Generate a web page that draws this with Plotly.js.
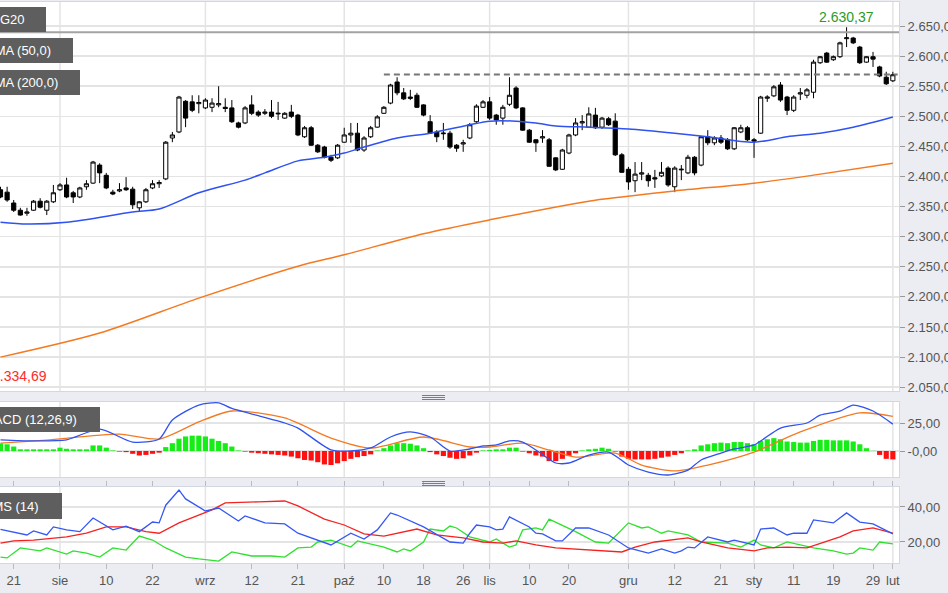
<!DOCTYPE html>
<html><head><meta charset="utf-8">
<script src="https://cdn.plot.ly/plotly-3.0.1.min.js"></script>
<style>html,body{margin:0;padding:0;background:#ebedf2;overflow:hidden}#chart{width:948px;height:593px}</style>
</head><body><div id="chart"></div>
<script>
// ---------- DATA ----------
const dates = [
'2017-07-19','2017-07-20','2017-07-21','2017-07-24','2017-07-25','2017-07-26','2017-07-27','2017-07-28','2017-07-31',
'2017-08-01','2017-08-02','2017-08-03','2017-08-04','2017-08-07','2017-08-08','2017-08-09','2017-08-10','2017-08-11','2017-08-14','2017-08-16','2017-08-17','2017-08-18','2017-08-21','2017-08-22','2017-08-23','2017-08-24','2017-08-25','2017-08-28','2017-08-29','2017-08-30','2017-08-31',
'2017-09-01','2017-09-04','2017-09-05','2017-09-06','2017-09-07','2017-09-08','2017-09-11','2017-09-12','2017-09-13','2017-09-14','2017-09-15','2017-09-18','2017-09-19','2017-09-20','2017-09-21','2017-09-22','2017-09-25','2017-09-26','2017-09-27','2017-09-28','2017-09-29',
'2017-10-02','2017-10-03','2017-10-04','2017-10-05','2017-10-06','2017-10-09','2017-10-10','2017-10-11','2017-10-12','2017-10-13','2017-10-16','2017-10-17','2017-10-18','2017-10-19','2017-10-20','2017-10-23','2017-10-24','2017-10-25','2017-10-26','2017-10-27','2017-10-30','2017-10-31',
'2017-11-02','2017-11-03','2017-11-06','2017-11-07','2017-11-08','2017-11-09','2017-11-10','2017-11-13','2017-11-14','2017-11-15','2017-11-16','2017-11-17','2017-11-20','2017-11-21','2017-11-22','2017-11-23','2017-11-24','2017-11-27','2017-11-28','2017-11-29','2017-11-30',
'2017-12-01','2017-12-04','2017-12-05','2017-12-06','2017-12-07','2017-12-08','2017-12-11','2017-12-12','2017-12-13','2017-12-14','2017-12-15','2017-12-18','2017-12-19','2017-12-20','2017-12-21','2017-12-22','2017-12-27','2017-12-28','2017-12-29',
'2018-01-02','2018-01-03','2018-01-04','2018-01-08','2018-01-09','2018-01-10','2018-01-11','2018-01-12','2018-01-15','2018-01-16','2018-01-17','2018-01-18','2018-01-19','2018-01-22','2018-01-23','2018-01-24','2018-01-25','2018-01-26','2018-01-29','2018-01-30','2018-01-31',
'2018-02-01'];

const open = [
2378,2374,2356,2344,2339,2344,2359,2344,2358,
2378,2386,2373,2366,2383,2389,2419,2402,2374,2376,2381,2379,2348,2358,2381,2388,2396,2464,2474,2525,2524,2521,
2514,2515,2519,2515,2514,2489,2489,2519,2507,2505,2507,2504,2497,2507,2502,2466,2481,2452,2449,2432,2431,
2457,2469,2472,2444,2466,2482,2505,2522,2557,2539,2532,2535,2519,2491,2474,2471,2472,2452,2454,2464,2491,2515,
2524,2502,2497,2520,2547,2514,2477,2461,2464,2461,2431,2412,2439,2469,2489,2482,2502,2482,2496,2492,2436,
2412,2393,2404,2402,2398,2401,2414,2383,2411,2406,2432,2419,2466,2456,2464,2461,2446,2474,2481,
2461,2472,2530,2534,2552,2532,2510,2537,2535,2540,2589,2605,2594,2599,2629,2630,2615,2590,2599,2582,2565,
2559];
const high = [
2383,2383,2361,2348,2348,2361,2364,2361,2386,
2389,2398,2376,2383,2394,2426,2422,2406,2378,2389,2399,2383,2359,2381,2394,2394,2459,2474,2534,2527,2535,2535,
2530,2530,2550,2530,2527,2491,2517,2535,2510,2512,2527,2524,2507,2519,2504,2484,2484,2454,2451,2436,2454,
2481,2489,2489,2467,2484,2502,2517,2554,2565,2547,2544,2539,2520,2502,2477,2489,2476,2454,2461,2489,2520,2527,
2532,2504,2519,2565,2550,2515,2479,2462,2477,2464,2432,2446,2471,2497,2502,2515,2514,2499,2499,2505,2439,
2416,2424,2424,2406,2411,2424,2417,2417,2419,2436,2434,2467,2477,2467,2469,2464,2482,2486,2484,
2464,2534,2535,2552,2557,2534,2535,2547,2547,2594,2600,2607,2601,2624,2648,2632,2617,2600,2607,2584,2574,
2574];
const low = [
2364,2358,2341,2335,2334.69,2343,2347,2336,2356,
2376,2364,2356,2364,2378,2388,2389,2379,2369,2374,2376,2346,2341,2356,2379,2381,2394,2457,2472,2482,2507,2505,
2512,2507,2515,2507,2489,2480,2487,2502,2499,2502,2497,2494,2496,2497,2467,2464,2451,2439,2430,2424,2429,
2456,2456,2442,2441,2464,2481,2504,2520,2535,2527,2527,2514,2500,2471,2457,2461,2446,2441,2441,2462,2489,2514,
2494,2486,2486,2517,2512,2476,2456,2441,2456,2416,2409,2411,2437,2467,2477,2481,2479,2479,2484,2434,2406,
2378,2374,2394,2383,2381,2399,2383,2374,2394,2404,2402,2417,2452,2452,2454,2444,2444,2472,2459,
2431,2471,2524,2532,2524,2502,2507,2527,2530,2530,2587,2589,2592,2597,2615,2620,2587,2589,2582,2565,2552,
2557];
const close = [
2366,2361,2344,2336,2341,2359,2349,2359,2373,
2386,2366,2366,2381,2388,2424,2406,2381,2371,2378,2378,2353,2358,2378,2388,2390,2457,2469,2532,2497,2510,2523,
2527,2522,2521,2513,2491,2482,2514,2505,2502,2507,2500,2505,2505,2500,2469,2481,2452,2441,2432,2427,2452,
2469,2472,2444,2464,2481,2499,2515,2552,2539,2529,2530,2515,2502,2472,2466,2472,2449,2447,2456,2486,2517,2524,
2497,2494,2515,2535,2514,2477,2457,2456,2466,2417,2411,2444,2469,2489,2491,2504,2481,2497,2486,2436,2407,
2391,2404,2406,2393,2396,2407,2386,2414,2412,2432,2406,2466,2456,2464,2457,2446,2481,2481,2461,
2459,2532,2532,2549,2527,2510,2532,2539,2544,2590,2599,2590,2599,2622,2630.37,2622,2589,2599,2595,2567,2554,
2569];

const sma50Dates = ['2017-07-19','2017-07-25','2017-08-02','2017-08-17','2017-08-23','2017-08-31','2017-09-11','2017-09-14','2017-09-21','2017-09-27','2017-10-02','2017-10-05','2017-10-12','2017-10-19','2017-10-27','2017-11-02','2017-11-08','2017-11-13','2017-11-16','2017-11-23','2017-12-01','2017-12-12','2017-12-19','2018-01-02','2018-01-10','2018-01-17','2018-01-24','2018-02-01'];
const sma50 = [2324,2321,2324,2341,2346,2373,2394,2406,2426,2432,2439,2449,2464,2472,2486,2492,2492,2489,2484,2482,2479,2472,2466,2457,2466,2472,2482,2499];

const sma200Dates = ['2017-07-19','2017-08-09','2017-08-31','2017-09-21','2017-10-02','2017-10-18','2017-11-02','2017-11-23','2017-11-30','2017-12-12','2018-01-02','2018-01-12','2018-02-01'];
const sma200 = [2100,2140,2198,2251,2270,2305,2328,2359,2366,2376,2389,2399,2422];

const macdDates = ['2017-07-19','2017-07-26','2017-08-02','2017-08-09','2017-08-17','2017-08-23','2017-08-25','2017-08-31','2017-09-05','2017-09-07','2017-09-19','2017-09-21','2017-09-28','2017-10-03','2017-10-06','2017-10-11','2017-10-16','2017-10-19','2017-10-24','2017-10-27','2017-10-31','2017-11-03','2017-11-07','2017-11-09','2017-11-13','2017-11-16','2017-11-20','2017-11-23','2017-11-28','2017-12-01','2017-12-06','2017-12-11','2017-12-14','2017-12-18','2017-12-21','2017-12-27','2018-01-02','2018-01-09','2018-01-15','2018-01-17','2018-01-22','2018-01-24','2018-01-29','2018-02-01'];
const macd = [10,9,10,19.6,8,10.7,27.7,41,43,38,25,20.5,1,0,2.7,12.5,17,12.5,0,1.8,4.5,5.4,9,8,0.9,-10.7,-10.7,-3.6,-0.9,-12.5,-18.8,-21.4,-17,-8,-1.8,1.8,5.4,20.5,25,32,35.7,41,35.7,24];

const signalDates = ['2017-07-19','2017-07-28','2017-08-14','2017-08-23','2017-08-31','2017-09-07','2017-09-19','2017-09-28','2017-10-06','2017-10-18','2017-10-27','2017-11-02','2017-11-09','2017-11-15','2017-11-21','2017-11-29','2017-12-05','2017-12-12','2017-12-19','2018-01-02','2018-01-12','2018-01-25','2018-02-01'];
const signal = [7,9.8,15,10.7,26,35.7,29.5,11.6,2.7,12.5,3.6,3.6,7,0.9,-5.4,-1.8,-12.5,-17.8,-12.5,-0.9,17,34,31];

const histogram = [
6.8,6,4,1.5,1.5,1.5,1.5,1.5,1.5,
3,2,1.5,1.5,1.5,5,5,3,0.5,-0.5,-1,-2.5,-4,-3.5,-2.5,-1.5,3.5,7,11,13,13.7,13.7,
13,11,9,7,4,0.5,-0.5,-1.5,-2,-2.5,-3,-3.5,-4,-5,-6.5,-8,-8.5,-10,-12,-12.5,-11,
-9,-7,-5.5,-4.5,-3,0.5,2.5,5,7,7,6.5,5,2.5,-1,-3,-4.5,-6,-7,-6.5,-4,-1.5,0.5,
1,1.5,1.5,3,3,-0.5,-2,-4,-5,-9,-9,-7,-4.5,-2,0.5,1.5,2,3,2,-0.5,-5,
-7,-7.5,-7.5,-7.5,-7,-6,-5,-3.5,-2,0.5,1.5,5,6,7,7.5,7,8,8,7,
6,9,10.5,11.5,10.5,8.5,8,7.5,7.5,9,10,10,9.5,9.5,9.5,8.5,6,2.5,0.2,-3.5,-7,
-7.5];

const dmsBlueDates = ['2017-07-19','2017-07-25','2017-07-26','2017-07-28','2017-07-31','2017-08-02','2017-08-04','2017-08-08','2017-08-11','2017-08-16','2017-08-18','2017-08-22','2017-08-23','2017-08-24','2017-08-28','2017-08-29','2017-09-01','2017-09-05','2017-09-08','2017-09-11','2017-09-14','2017-09-19','2017-09-21','2017-09-28','2017-10-03','2017-10-05','2017-10-09','2017-10-11','2017-10-12','2017-10-18','2017-10-24','2017-10-26','2017-10-27','2017-10-30','2017-11-02','2017-11-03','2017-11-06','2017-11-07','2017-11-10','2017-11-13','2017-11-14','2017-11-16','2017-11-17','2017-11-21','2017-11-23','2017-11-28','2017-12-01','2017-12-06','2017-12-08','2017-12-12','2017-12-13','2017-12-14','2017-12-15','2017-12-19','2017-12-22','2017-12-27','2018-01-02','2018-01-03','2018-01-08','2018-01-10','2018-01-11','2018-01-15','2018-01-16','2018-01-19','2018-01-23','2018-01-25','2018-01-29','2018-02-01'];
const dmsBlue = [27.2,24,26.3,24,28.6,26.9,25.9,33.7,26.9,29,25.9,31.4,30.9,41,49.7,44.6,37.7,39.4,32,34.9,30.9,30.3,25,18.3,25,21.7,26.9,36.6,35.4,28.6,20,19.4,25,29.7,28.6,26.9,27.4,34.3,28.6,25,24.6,20.6,20.6,28,28,24,16.6,13.7,16,13.7,14.9,17.1,16.6,22.9,20,21.1,18.3,27.4,28,24,25,25,32.6,30.9,36.6,31.4,30.3,24.6];

const dmsRedDates = ['2017-07-19','2017-07-21','2017-07-26','2017-08-02','2017-08-07','2017-08-10','2017-08-16','2017-08-21','2017-08-23','2017-08-28','2017-09-04','2017-09-06','2017-09-13','2017-09-19','2017-09-21','2017-09-27','2017-10-02','2017-10-05','2017-10-10','2017-10-17','2017-10-20','2017-10-26','2017-10-31','2017-11-06','2017-11-08','2017-11-13','2017-11-16','2017-11-23','2017-11-30','2017-12-04','2017-12-07','2017-12-14','2017-12-18','2017-12-22','2018-01-02','2018-01-04','2018-01-10','2018-01-15','2018-01-22','2018-01-24','2018-01-29','2018-02-01'];
const dmsRed = [19.4,20.6,21.1,22.9,25,28.6,28.6,25.9,25,30.9,38.3,42.3,42.9,43.4,40.6,33.1,29.7,24.6,23.4,27.4,24,22.3,20,19.4,20.6,18.3,16.6,15.4,14.3,17.1,20,22.3,20,16.6,14.9,16.6,17.1,16.6,22.9,26.3,28,25.1];

const dmsGreenDates = ['2017-07-19','2017-07-20','2017-07-24','2017-07-27','2017-07-28','2017-08-02','2017-08-03','2017-08-07','2017-08-09','2017-08-11','2017-08-16','2017-08-18','2017-08-22','2017-08-24','2017-08-29','2017-08-31','2017-09-05','2017-09-07','2017-09-12','2017-09-15','2017-09-19','2017-09-21','2017-09-25','2017-09-26','2017-09-28','2017-10-03','2017-10-04','2017-10-10','2017-10-12','2017-10-13','2017-10-16','2017-10-18','2017-10-19','2017-10-23','2017-10-24','2017-10-25','2017-10-27','2017-11-02','2017-11-03','2017-11-07','2017-11-08','2017-11-09','2017-11-13','2017-11-14','2017-11-15','2017-11-16','2017-11-21','2017-11-24','2017-11-28','2017-12-01','2017-12-05','2017-12-06','2017-12-08','2017-12-11','2017-12-14','2017-12-18','2017-12-22','2017-12-28','2018-01-02','2018-01-03','2018-01-08','2018-01-10','2018-01-12','2018-01-16','2018-01-19','2018-01-23','2018-01-24','2018-01-25','2018-01-29','2018-01-30','2018-02-01'];
const dmsGreen = [11.4,10.9,16.6,14.9,16.6,13.1,14.9,13.7,11.4,16.6,15.4,23.4,21.1,16.6,11.4,10.3,9.1,14.3,12,12,11.4,16.6,17.1,20,21.1,17.1,20.6,17.1,14.3,16,14.9,20,27.4,26.3,29.1,28,22.9,20,21.7,17.1,18.3,26.9,28,26.9,33.1,31.4,25.9,20,19.4,30.9,28,28.6,25,26.3,24,20,19.4,17.1,21.1,18.3,16.6,20,18.3,16.6,14.9,13.1,13.7,16.6,15.4,20,18.9];

const tickDates = ['2017-07-21','2017-08-01','2017-08-10','2017-08-22','2017-09-01','2017-09-12','2017-09-21','2017-10-02','2017-10-10','2017-10-18','2017-10-26','2017-11-02','2017-11-10','2017-11-20','2017-12-01','2017-12-12','2017-12-21','2018-01-02','2018-01-11','2018-01-19','2018-01-29','2018-02-01'];
const tickLabels = ['21','sie','10','22','wrz','12','21','paź','10','18','26','lis','10','20','gru','12','21','sty','11','19','29','lut'];
const monthDates = ['2017-08-01','2017-09-01','2017-10-02','2017-11-02','2017-12-01','2018-01-02','2018-02-01'];
const mainTicks = [2050,2100,2150,2200,2250,2300,2350,2400,2450,2500,2550,2600,2650];
const topLine = 2639.5;
const resistanceLevel = 2569.5;
const resistanceStart = '2017-10-10';
const panelLabels = ['WIG20','SMA (50,0)','SMA (200,0)','MACD (12,26,9)','DMS (14)'];

// ---------- HELPERS ----------
const P = d => dates.indexOf(d);
const X = dates.map((d, i) => i);
const W = 948, H = 593, RM = 49, PW = W - RM;
const px = v => v / PW;
const py = v => 1 - v / H;
const fmt = v => {
  const [a, b] = v.toFixed(2).split('.');
  return a.replace(/\B(?=(\d{3})+(?!\d))/g, '.') + ',' + b;
};
const xRange = [-0.076, 135.93];
const FONT = 'Liberation Sans, Arial, sans-serif';

const iMax = close.indexOf(Math.max(...close));
const minLow = Math.min(...low);

// ---------- TRACES ----------
const traces = [
  {type:'candlestick', x:X, open:open, high:high, low:low, close:close, xaxis:'x', yaxis:'y',
   whiskerwidth:0, hoverinfo:'skip',
   increasing:{line:{color:'#000', width:1}, fillcolor:'#ffffff'},
   decreasing:{line:{color:'#000', width:1}, fillcolor:'#000000'}},
  {type:'scatter', mode:'lines', x:sma50Dates.map(P), y:sma50, xaxis:'x', yaxis:'y',
   line:{color:'#2f52f0', width:1.5, shape:'spline', smoothing:0.8}, hoverinfo:'skip'},
  {type:'scatter', mode:'lines', x:sma200Dates.map(P), y:sma200, xaxis:'x', yaxis:'y',
   line:{color:'#f47a22', width:1.5, shape:'spline', smoothing:0.8}, hoverinfo:'skip'},
  {type:'bar', x:X, y:histogram, xaxis:'x', yaxis:'y2',
   marker:{color:histogram.map(v => v >= 0 ? '#14ee14' : '#ff1010'), line:{width:0}}, hoverinfo:'skip'},
  {type:'scatter', mode:'lines', x:signalDates.map(P), y:signal, xaxis:'x', yaxis:'y2',
   line:{color:'#f47a22', width:1.3, shape:'spline', smoothing:0.7}, hoverinfo:'skip'},
  {type:'scatter', mode:'lines', x:macdDates.map(P), y:macd, xaxis:'x', yaxis:'y2',
   line:{color:'#2f52f0', width:1.3, shape:'spline', smoothing:0.7}, hoverinfo:'skip'},
  {type:'scatter', mode:'lines', x:dmsGreenDates.map(P), y:dmsGreen, xaxis:'x', yaxis:'y3',
   line:{color:'#2fe02f', width:1.3}, hoverinfo:'skip'},
  {type:'scatter', mode:'lines', x:dmsRedDates.map(P), y:dmsRed, xaxis:'x', yaxis:'y3',
   line:{color:'#f52222', width:1.3}, hoverinfo:'skip'},
  {type:'scatter', mode:'lines', x:dmsBlueDates.map(P), y:dmsBlue, xaxis:'x', yaxis:'y3',
   line:{color:'#3558f5', width:1.3}, hoverinfo:'skip'}
];

// ---------- SHAPES / ANNOTATIONS ----------
const shapes = [];
['y','y2','y3'].forEach(ax => monthDates.forEach(d => shapes.push({
  type:'line', layer:'below', xref:'x', yref:ax + ' domain', x0:P(d), x1:P(d), y0:0, y1:1,
  line:{color:'#e4e4e4', width:1.5}})));
shapes.push({type:'line', layer:'above', xref:'x', yref:'y', x0:xRange[0], x1:xRange[1], y0:topLine, y1:topLine,
  line:{color:'#a3a3a3', width:2}});
shapes.push({type:'line', layer:'above', xref:'x', yref:'y', x0:P(resistanceStart), x1:xRange[1] - 0.2,
  y0:resistanceLevel, y1:resistanceLevel, line:{color:'#777', width:2, dash:'6px,4px'}});
// separator grips
[[395.5,397.5,399.5],[481.5,483.5,485.5]].forEach(g => g.forEach(yy => shapes.push({
  type:'line', xref:'paper', yref:'paper', x0:px(422), x1:px(445), y0:py(yy), y1:py(yy),
  line:{color:'#7d7d7d', width:1}})));

const boxes = [
  {right:46, top:7, bottom:32, textRight:25},
  {right:73, top:38, bottom:63, textRight:52},
  {right:80, top:70, bottom:95, textRight:59},
  {right:100, top:407, bottom:432, textRight:78},
  {right:62, top:493, bottom:519, textRight:40}
];
const annotations = [];
boxes.forEach((b, k) => {
  shapes.push({type:'rect', layer:'above', xref:'paper', yref:'paper', x0:px(-30), x1:px(b.right),
    y0:py(b.bottom), y1:py(b.top), fillcolor:'#5e5e5e', line:{width:0}});
  annotations.push({xref:'paper', yref:'paper', x:px(b.textRight + 1), y:py((b.top + b.bottom) / 2),
    xanchor:'right', yanchor:'middle', showarrow:false, text:panelLabels[k],
    font:{family:FONT, size:13, color:'#ffffff'}});
});
annotations.push({xref:'x', yref:'y', x:iMax, y:high[iMax], xanchor:'center', yanchor:'bottom',
  showarrow:false, text:fmt(close[iMax]), font:{family:FONT, size:14, color:'#2a9a2a'}});
annotations.push({xref:'paper', yref:'paper', x:px(49), y:py(376), xanchor:'right', yanchor:'middle',
  showarrow:false, text:fmt(minLow), font:{family:FONT, size:14, color:'#ff2a2a'}});

const borderColor = '#d3d7df';
const yCommon = {side:'right', anchor:'x', showline:true, linecolor:borderColor, linewidth:1,
  ticks:'outside', ticklen:5, tickcolor:'#999', gridcolor:'#e4e4e4', gridwidth:1.5, zeroline:false,
  tickfont:{family:FONT, size:13, color:'#555'}, fixedrange:true};

const layout = {
  width:W, height:H, margin:{l:0, r:RM, t:0, b:0},
  paper_bgcolor:'#ebedf2', plot_bgcolor:'#ffffff', separators:',.', showlegend:false,
  font:{family:FONT, size:13, color:'#555'}, bargap:0.22, boxgap:0.1, hovermode:false,
  xaxis:{anchor:'y3', range:xRange, tickmode:'array', tickvals:tickDates.map(P), ticktext:tickLabels,
    showgrid:false, zeroline:false, showline:true, mirror:'all', linecolor:borderColor, linewidth:1,
    ticks:'outside', ticklen:5, tickcolor:'#bbb', tickfont:{family:FONT, size:13, color:'#555'},
    rangeslider:{visible:false}, fixedrange:true},
  yaxis:Object.assign({}, yCommon, {domain:[py(391), py(2)], range:[2043.7, 2689.9],
    tickmode:'array', tickvals:mainTicks, tickformat:',.2f'}),
  yaxis2:Object.assign({}, yCommon, {domain:[py(477), py(402)], range:[-23.2, 43.75],
    tickmode:'array', tickvals:[0, 25], ticktext:['-0,00', '25,00']}),
  yaxis3:Object.assign({}, yCommon, {domain:[py(563), py(487)], range:[8, 51.4],
    tickmode:'array', tickvals:[20, 40], tickformat:',.2f'}),
  shapes:shapes, annotations:annotations
};

Plotly.newPlot('chart', traces, layout, {staticPlot:true, displayModeBar:false});
</script></body></html>
